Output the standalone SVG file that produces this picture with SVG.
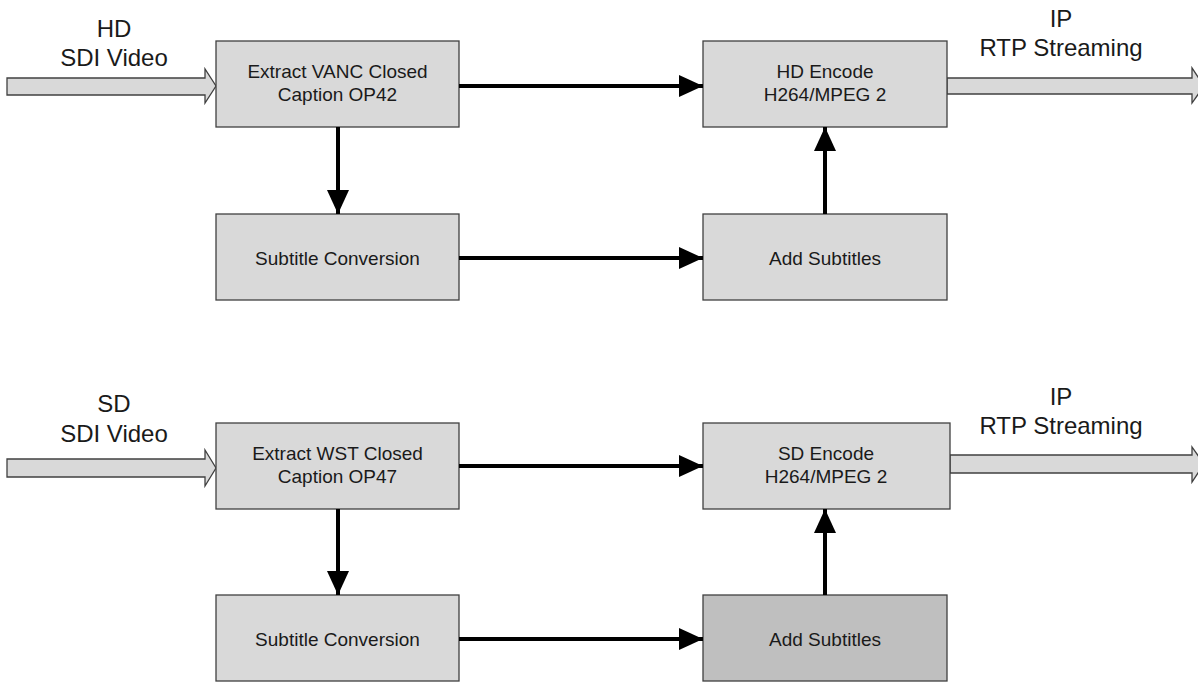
<svg xmlns="http://www.w3.org/2000/svg" width="1198" height="683" viewBox="0 0 1198 683">
<style>
.box{fill:#d9d9d9;stroke:#404040;stroke-width:1.3}
.dark{fill:#bfbfbf}
.blk{fill:#d9d9d9;stroke:#404040;stroke-width:1.3}
.t{font-family:"Liberation Sans",Arial,sans-serif;font-size:19px;fill:#1a1a1a;text-anchor:middle}
.lbl{font-family:"Liberation Sans",Arial,sans-serif;font-size:24px;fill:#1a1a1a;text-anchor:middle}
.c{stroke:#000;stroke-width:4;fill:none;marker-end:url(#ah)}
</style>
<defs>
<marker id="ah" markerUnits="userSpaceOnUse" markerWidth="25" markerHeight="23" refX="24" refY="11" orient="auto">
<path d="M0,0 L24,11 L0,22 Z" fill="#000"/>
</marker>
</defs>
<rect width="1198" height="683" fill="#fff"/>

<g id="hd-in">
<polygon class="blk" points="7,78 205,78 205,69 216,86 205,103 205,95 7,95"/>
<text class="lbl" x="114" y="37">HD</text>
<text class="lbl" x="114" y="66">SDI Video</text>
</g>
<g id="hd-out">
<polygon class="blk" points="947,78 1192,78 1192,68 1204,86 1192,103 1192,94 947,94"/>
<text class="lbl" x="1061" y="27">IP</text>
<text class="lbl" x="1061" y="56">RTP Streaming</text>
</g>
<g id="extract-vanc">
<rect class="box" x="216" y="41" width="243" height="86"/>
<text class="t" x="337.5" y="78">Extract VANC Closed</text>
<text class="t" x="337.5" y="101">Caption OP42</text>
</g>
<g id="hd-encode">
<rect class="box" x="703" y="41" width="244" height="86"/>
<text class="t" x="825" y="78">HD Encode</text>
<text class="t" x="825" y="101">H264/MPEG 2</text>
</g>
<g id="hd-subconv">
<rect class="box" x="216" y="214" width="243" height="86"/>
<text class="t" x="337.5" y="265">Subtitle Conversion</text>
</g>
<g id="hd-addsub">
<rect class="box" x="703" y="214" width="244" height="86"/>
<text class="t" x="825" y="265">Add Subtitles</text>
</g>

<g id="sd-in">
<polygon class="blk" points="7,459 205,459 205,450 216,468 205,486 205,477 7,477"/>
<text class="lbl" x="114" y="412">SD</text>
<text class="lbl" x="114" y="442">SDI Video</text>
</g>
<g id="sd-out">
<polygon class="blk" points="950,455 1192,455 1192,447 1204,464 1192,482 1192,473 950,473"/>
<text class="lbl" x="1061" y="405">IP</text>
<text class="lbl" x="1061" y="434">RTP Streaming</text>
</g>
<g id="extract-wst">
<rect class="box" x="216" y="423" width="243" height="86"/>
<text class="t" x="337.5" y="460">Extract WST Closed</text>
<text class="t" x="337.5" y="483">Caption OP47</text>
</g>
<g id="sd-encode">
<rect class="box" x="703" y="423" width="247" height="86"/>
<text class="t" x="826" y="460">SD Encode</text>
<text class="t" x="826" y="483">H264/MPEG 2</text>
</g>
<g id="sd-subconv">
<rect class="box" x="216" y="595" width="243" height="86"/>
<text class="t" x="337.5" y="646">Subtitle Conversion</text>
</g>
<g id="sd-addsub">
<rect class="box dark" x="703" y="595" width="244" height="86"/>
<text class="t" x="825" y="646">Add Subtitles</text>
</g>

<g id="connectors">
<line class="c" x1="459" y1="86" x2="703" y2="86"/>
<line class="c" x1="338" y1="127" x2="338" y2="214"/>
<line class="c" x1="459" y1="258" x2="703" y2="258"/>
<line class="c" x1="825" y1="214" x2="825" y2="127"/>
<line class="c" x1="459" y1="466" x2="703" y2="466"/>
<line class="c" x1="338" y1="509" x2="338" y2="595"/>
<line class="c" x1="459" y1="639" x2="703" y2="639"/>
<line class="c" x1="825" y1="595" x2="825" y2="509"/>
</g>
</svg>
